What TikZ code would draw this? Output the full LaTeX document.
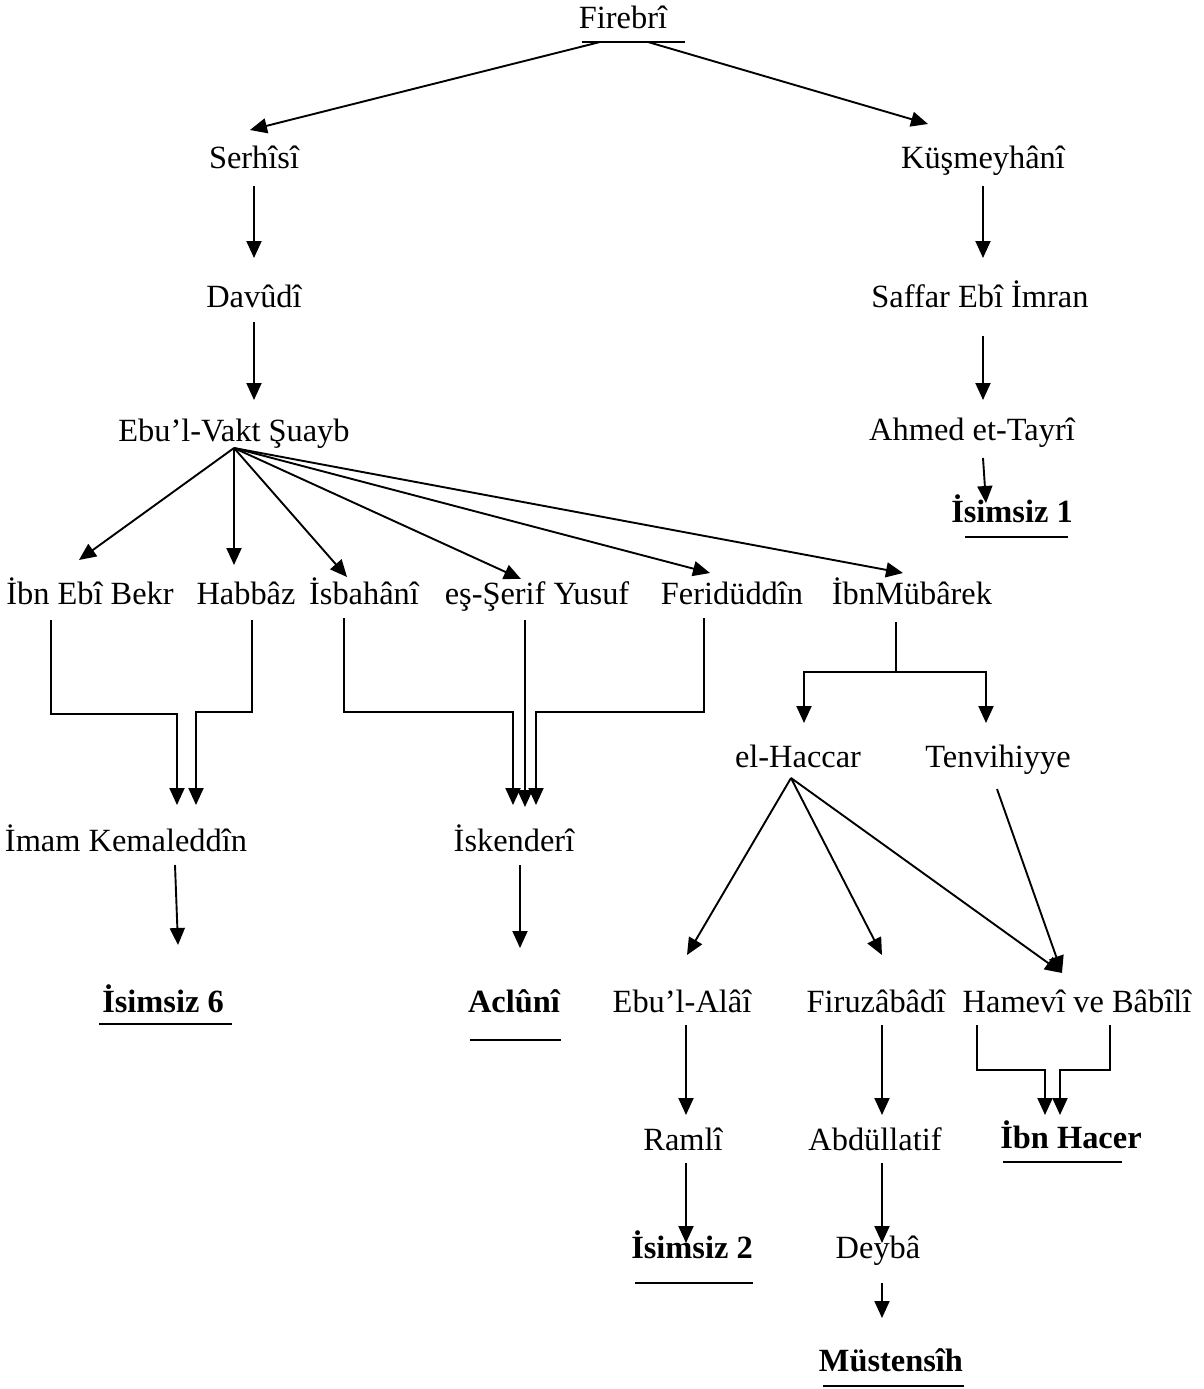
\documentclass[tikz,border=0pt]{standalone}
\usepackage{fontspec}
\setmainfont{Liberation Serif}
\usetikzlibrary{arrows.meta}

\tikzset{
  isim/.style={anchor=base, inner sep=0pt, font=\fontsize{16.2}{19}\selectfont},
  nusha/.style={isim, font=\fontsize{16.2}{19}\selectfont\bfseries},
  link/.style={draw=black, line width=0.95pt, -{Triangle[length=8.5pt,width=7.5pt]}},
  rule/.style={draw=black, line width=1pt},
}

\begin{document}
\begin{tikzpicture}[x=0.5pt, y=-0.5pt]
    \useasboundingbox (0, 0) rectangle (1204, 1389);
    % the names
    \node[isim] (firebri) at (623, 28) {Firebrî};
    \node[isim] (serhisi) at (254, 168) {Serhîsî};
    \node[isim] (kusmey) at (983, 168) {Küşmeyhânî};
    \node[isim] (davudi) at (254, 307) {Davûdî};
    \node[isim] (saffar) at (980, 307) {Saffar Ebî İmran};
    \node[isim] (ebuvakt) at (234, 441) {Ebu’l-Vakt Şuayb};
    \node[isim] (ahmed) at (972, 440) {Ahmed et-Tayrî};
    \node[nusha] (isimsiz1) at (1012, 522) {İsimsiz 1};
    \node[isim] (ibnebibekr) at (90, 604) {İbn Ebî Bekr};
    \node[isim] (habbaz) at (246, 604) {Habbâz};
    \node[isim] (isbahani) at (364, 604) {İsbahânî};
    \node[isim] (serif) at (537, 604) {eş-Şerif Yusuf};
    \node[isim] (feriduddin) at (732, 604) {Feridüddîn};
    \node[isim] (ibnmubarek) at (912, 604) {İbnMübârek};
    \node[isim] (elhaccar) at (798, 767) {el-Haccar};
    \node[isim] (tenvih) at (998, 767) {Tenvihiyye};
    \node[isim] (imam) at (126, 851) {İmam Kemaleddîn};
    \node[isim] (iskenderi) at (514, 851) {İskenderî};
    \node[nusha] (isimsiz6) at (163, 1012) {İsimsiz 6};
    \node[nusha] (aclun) at (514, 1012) {Aclûnî};
    \node[isim] (ebulalai) at (682, 1012) {Ebu’l-Alâî};
    \node[isim] (firuz) at (876, 1012) {Firuzâbâdî};
    \node[isim] (hamevi) at (1077, 1012) {Hamevî ve Bâbîlî};
    \node[isim] (ramli) at (683, 1150) {Ramlî};
    \node[isim] (abdul) at (875, 1150) {Abdüllatif};
    \node[nusha] (ibnhacer) at (1071, 1148) {İbn Hacer};
    \node[nusha] (isimsiz2) at (692, 1258) {İsimsiz 2};
    \node[isim] (deyba) at (878, 1258) {Deybâ};
    \node[nusha] (mustensih) at (891, 1371) {Müstensîh};

    % underlines
    \path[rule] ([shift={(-41, 14)}]firebri.base) -- ([shift={(62, 14)}]firebri.base);
    \path[rule] ([shift={(-47, 15)}]isimsiz1.base) -- ([shift={(56, 15)}]isimsiz1.base);
    \path[rule] ([shift={(-64, 12)}]isimsiz6.base) -- ([shift={(69, 12)}]isimsiz6.base);
    \path[rule] ([shift={(-44, 28)}]aclun.base) -- ([shift={(47, 28)}]aclun.base);
    \path[rule] ([shift={(-68, 14)}]ibnhacer.base) -- ([shift={(51, 14)}]ibnhacer.base);
    \path[rule] ([shift={(-57, 25)}]isimsiz2.base) -- ([shift={(61, 25)}]isimsiz2.base);
    \path[rule] ([shift={(-68, 15)}]mustensih.base) -- ([shift={(73, 15)}]mustensih.base);

    % upper part
    \path[link] ([shift={(-23, 14)}]firebri.base) -- ([shift={(-4, -38)}]serhisi.base);
    \path[link] ([shift={(25, 14)}]firebri.base) -- ([shift={(-55, -44)}]kusmey.base);
    \path[link] ([shift={(0, 18)}]serhisi.base) -- ([shift={(0, -49)}]davudi.base);
    \path[link] ([shift={(0, 15)}]davudi.base) -- ([shift={(20, -41)}]ebuvakt.base);
    \path[link] ([shift={(0, 18)}]kusmey.base) -- ([shift={(3, -49)}]saffar.base);
    \path[link] ([shift={(3, 29)}]saffar.base) -- ([shift={(11, -40)}]ahmed.base);
    \path[link] ([shift={(11, 18)}]ahmed.base) -- ([shift={(-26, -19)}]isimsiz1.base);

    % students of Ebu'l-Vakt
    \coordinate (vakt) at ([shift={(0, 7)}]ebuvakt.base);
    \path[link] (vakt) -- ([shift={(-11, -44)}]ibnebibekr.base);
    \path[link] (vakt) -- ([shift={(-12, -39)}]habbaz.base);
    \path[link] (vakt) -- ([shift={(-17, -27)}]isbahani.base);
    \path[link] (vakt) -- ([shift={(-16, -25)}]serif.base);
    \path[link] (vakt) -- ([shift={(-22, -31)}]feriduddin.base);
    \path[link] (vakt) -- ([shift={(-9, -31)}]ibnmubarek.base);

    % joined lines
    \path[link] ([shift={(-39, 16)}]ibnebibekr.base) |- ([shift={(51, -137)}]imam.base) -- ([shift={(51, -46)}]imam.base);
    \path[link] ([shift={(6, 16)}]habbaz.base) |- ([shift={(70, -139)}]imam.base) -- ([shift={(70, -46)}]imam.base);
    \path[link] ([shift={(-20, 14)}]isbahani.base) |- ([shift={(-1, -139)}]iskenderi.base) -- ([shift={(-1, -46)}]iskenderi.base);
    \path[link] ([shift={(-12, 16)}]serif.base) -- ([shift={(11, -44)}]iskenderi.base);
    \path[link] ([shift={(-28, 14)}]feriduddin.base) |- ([shift={(22, -139)}]iskenderi.base) -- ([shift={(22, -46)}]iskenderi.base);
    \path[link] ([shift={(-16, 18)}]ibnmubarek.base) -- ++(0, 50) -| ([shift={(6, -44)}]elhaccar.base);
    \path[link] ([shift={(-16, 68)}]ibnmubarek.base) -| ([shift={(-12, -44)}]tenvih.base);

    % students of el-Haccar
    \coordinate (haccar) at ([shift={(-7, 11)}]elhaccar.base);
    \path[link] (haccar) -- ([shift={(5, -57)}]ebulalai.base);
    \path[link] (haccar) -- ([shift={(6, -57)}]firuz.base);
    \path[link] (haccar) -- ([shift={(-15, -39)}]hamevi.base);
    \path[link] ([shift={(-1, 22)}]tenvih.base) -- ([shift={(-15, -39)}]hamevi.base);

    % lower part
    \path[link] ([shift={(49, 14)}]imam.base) -- ([shift={(15, -67)}]isimsiz6.base);
    \path[link] ([shift={(6, 14)}]iskenderi.base) -- ([shift={(6, -64)}]aclun.base);
    \path[link] ([shift={(4, 13)}]ebulalai.base) -- ([shift={(3, -35)}]ramli.base);
    \path[link] ([shift={(6, 13)}]firuz.base) -- ([shift={(7, -35)}]abdul.base);
    \path[link] ([shift={(-100, 13)}]hamevi.base) |- ([shift={(-26, -78)}]ibnhacer.base) -- ([shift={(-26, -33)}]ibnhacer.base);
    \path[link] ([shift={(33, 13)}]hamevi.base) |- ([shift={(-11, -78)}]ibnhacer.base) -- ([shift={(-11, -33)}]ibnhacer.base);
    \path[link] ([shift={(3, 13)}]ramli.base) -- ([shift={(-6, -15)}]isimsiz2.base);
    \path[link] ([shift={(7, 13)}]abdul.base) -- ([shift={(4, -15)}]deyba.base);
    \path[link] ([shift={(4, 25)}]deyba.base) -- ([shift={(-9, -53)}]mustensih.base);
\end{tikzpicture}
\end{document}
